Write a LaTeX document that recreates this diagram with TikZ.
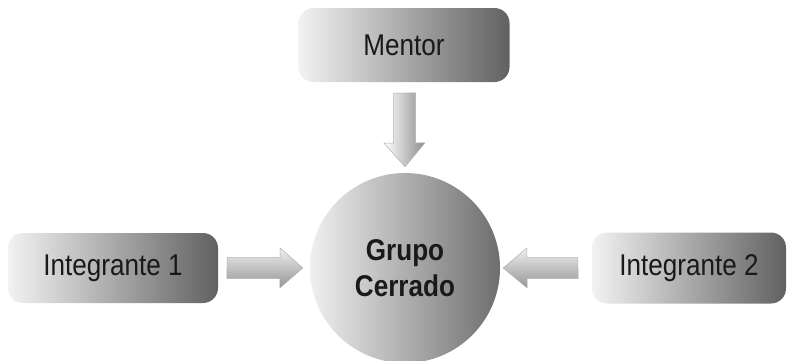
\documentclass[tikz,border=0pt]{standalone}
\usepackage{fontspec}
\setmainfont{Liberation Sans}[FakeStretch=0.87]
\usepackage{tikz}

\tikzset{
  caja/.style={rounded corners=15pt, left color=black!5, right color=black!62,
    inner sep=0pt, text=black!90, font=\fontsize{30}{36}\selectfont},
  grupo/.style={circle, minimum size=190pt, inner sep=0pt, left color=black!6,
    right color=black!57, text=black!90, align=center,
    font=\fontsize{30}{36}\selectfont\bfseries},
  flechah/.style={draw=black!30, line width=0.5pt, top color=black!6, bottom color=black!42},
  flechav/.style={draw=black!30, line width=0.5pt, left color=white, right color=black!45},
}

\begin{document}
\begin{tikzpicture}[x=1pt,y=-1pt]

\useasboundingbox (0,0) rectangle (788,360);

\node [caja, minimum width=211pt, minimum height=74pt] (mentor) at (404,45) {Mentor};
\node [caja, minimum width=210pt, minimum height=70pt] (int1) at (113,268) {Integrante 1};
\node [caja, minimum width=194pt, minimum height=71pt] (int2) at (689,268) {Integrante 2};
\node [grupo] (grupo) at (405,268) {Grupo\\Cerrado};

% flechas
\draw [flechav] ([yshift=-11pt]mentor.south) ++(-10.5,0) -- ++(0,50) -- ++(-9.5,0)
  -- ([yshift=6pt]grupo.north) -- ++(20,-24) -- ++(-9.5,0) -- ++(0,-50) -- cycle;
\draw [flechah] ([xshift=9pt]int1.east) ++(0,-10.5) -- ++(53,0) -- ++(0,-9.5)
  -- ([xshift=-7pt]grupo.west) -- ++(-23,20) -- ++(0,-9.5) -- ++(-53,0) -- cycle;
\draw [flechah] ([xshift=-14pt]int2.west) ++(0,-10.5) -- ++(-51,0) -- ++(0,-9.5)
  -- ([xshift=3pt]grupo.east) -- ++(24,20) -- ++(0,-9.5) -- ++(51,0) -- cycle;

\end{tikzpicture}
\end{document}
